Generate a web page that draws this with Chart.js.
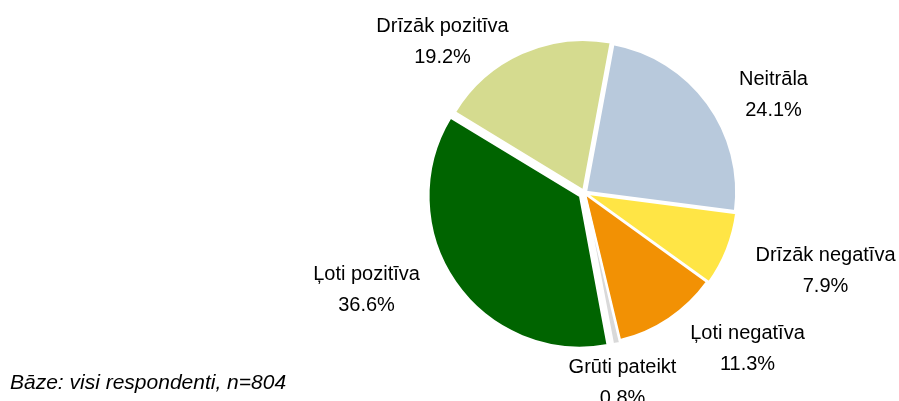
<!DOCTYPE html>
<html>
<head>
<meta charset="utf-8">
<script src="https://cdn.jsdelivr.net/npm/chart.js@4"></script>
<style>
  body { margin: 0; background: #fff; }
  canvas { display: block; }
</style>
</head>
<body>
<canvas id="pieChart" width="899" height="401"></canvas>
<script>
// Dati no attēla (secība pulksteņrādītāja virzienā no augšas)
const categories = ["Neitrāla", "Drīzāk negatīva", "Ļoti negatīva", "Grūti pateikt", "Ļoti pozitīva", "Drīzāk pozitīva"];
const shares = [24.1, 7.9, 11.3, 0.8, 36.6, 19.2];
const footnote = "Bāze: visi respondenti, n=804";

// Krāsas un izvirzījumi katram sektoram
const sliceColors = ['#b8c9dc', '#ffe545', '#f29104', '#d9d9d9', '#006400', '#d5db8f'];
const sliceOffsets = [8, 8, 4, 8, 22, 12];

// Etiķešu bloku centri attiecībā pret apļa centru
const labelShift = [[189, -100], [241, 76], [163, 154], [38, 188], [-218, 95], [-142, -153]];

const labelFont = '20px "Liberation Sans", Arial, sans-serif';

// Spraudnis etiķetēm un piezīmei
const pieLabels = {
  id: 'pieLabels',
  afterDraw(chart) {
    const ctx = chart.ctx;
    const meta = chart.getDatasetMeta(0);
    const cx = meta.data[0].x;
    const cy = meta.data[0].y;
    ctx.save();
    ctx.fillStyle = '#000';
    ctx.font = labelFont;
    ctx.textAlign = 'center';
    ctx.textBaseline = 'alphabetic';
    categories.forEach((name, i) => {
      const x = cx + labelShift[i][0];
      const y = cy + labelShift[i][1];
      ctx.fillText(name, x, y - 15.5 + 7.7);
      ctx.fillText(shares[i].toFixed(1) + '%', x, y + 15.5 + 7.7);
    });
    ctx.textAlign = 'left';
    ctx.font = 'italic 21px "Liberation Sans", Arial, sans-serif';
    ctx.fillText(footnote, 10, 389);
    ctx.restore();
  }
};

const ctx = document.getElementById('pieChart').getContext('2d');
const pieChart = new Chart(ctx, {
  type: 'pie',
  data: {
    labels: categories,
    datasets: [{
      data: shares,
      backgroundColor: sliceColors,
      borderColor: '#ffffff',
      borderWidth: 2,
      offset: sliceOffsets,
      radius: 150
    }]
  },
  options: {
    responsive: false,
    animation: false,
    rotation: 10.5,
    layout: { padding: { left: 291, right: 21, top: 20, bottom: 35 } },
    plugins: {
      legend: { display: false },
      tooltip: { enabled: false }
    }
  },
  plugins: [pieLabels]
});
</script>
</body>
</html>
